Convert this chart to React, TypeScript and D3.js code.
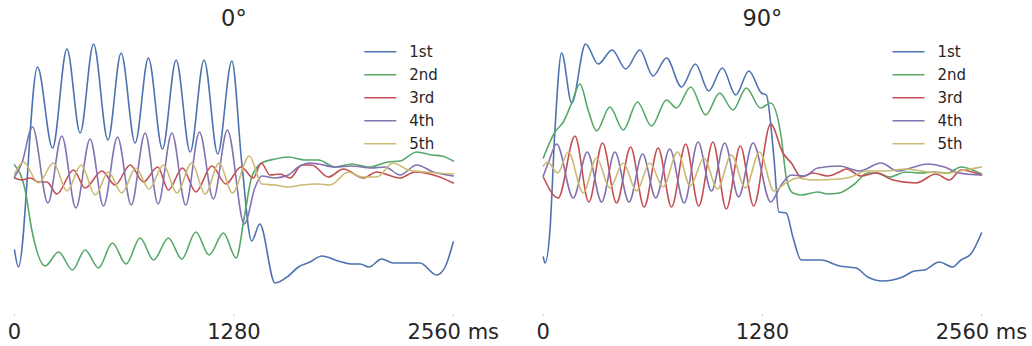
import React from "react";
import * as d3 from "d3";

// Time axis (ms) and tick labels
const timeDomain = [0, 2560];
const tickValues = [0, 1280, 2560];
const tickLabels = ["0", "1280", "2560 ms"];
const panelTitles = ["0°", "90°"];
const seriesNames = ["1st", "2nd", "3rd", "4th", "5th"];
const seriesColors = ["#4C72B0", "#55A868", "#C44E52", "#8172B2", "#CCB974"];

type Pt = [number, number];

// ---- 0° panel: [time ms, amplitude] ----
const p0First: Pt[] = [
  [0, -0.75], [23, -0.92], [134, 1.08], [222, 0.27], [306, 1.26], [383, 0.42], [461, 1.31],
  [545, 0.35], [622, 1.22], [704, 0.32], [781, 1.17], [863, 0.26], [943, 1.15], [1025, 0.23],
  [1106, 1.15], [1186, 0.21], [1268, 1.14], [1326, 0.12], [1384, -0.66], [1431, -0.49],
  [1520, -1.08], [1598, -1.01], [1656, -0.92], [1724, -0.87], [1793, -0.81], [1889, -0.86],
  [1968, -0.89], [2016, -0.89], [2068, -0.92], [2142, -0.84], [2210, -0.88], [2278, -0.88],
  [2366, -0.88], [2463, -1.0], [2512, -0.92], [2560, -0.67],
];
const p0Second: Pt[] = [
  [0, 0.1], [62, -0.15], [101, -0.55], [179, -0.91], [257, -0.77], [338, -0.95], [412, -0.75],
  [490, -0.93], [571, -0.68], [651, -0.89], [733, -0.63], [811, -0.85], [898, -0.63],
  [976, -0.84], [1058, -0.57], [1135, -0.8], [1219, -0.58], [1293, -0.83], [1341, -0.42],
  [1384, -0.02], [1443, 0.12], [1520, 0.16], [1598, 0.18], [1695, 0.15], [1773, 0.15],
  [1870, 0.08], [1968, 0.11], [2064, 0.08], [2181, 0.13], [2249, 0.14], [2347, 0.23],
  [2434, 0.2], [2492, 0.19], [2560, 0.14],
];
const p0Third: Pt[] = [
  [0, -0.03], [43, -0.05], [92, -0.03], [140, -0.07], [189, -0.07], [247, -0.19], [344, 0.05],
  [412, -0.13], [510, 0.04], [587, -0.1], [675, 0.1], [752, -0.07], [836, 0.08], [898, -0.15],
  [980, 0.07], [1058, -0.17], [1151, 0.09], [1233, -0.09], [1322, 0.08], [1394, -0.03],
  [1439, 0.12], [1491, 0.0], [1549, 0.01], [1608, -0.03], [1676, 0.1], [1734, 0.1],
  [1831, -0.02], [1919, 0.06], [2035, -0.03], [2113, 0.03], [2249, -0.03], [2337, 0.03],
  [2463, -0.01], [2560, -0.08],
];
const p0Fourth: Pt[] = [
  [0, -0.02], [43, 0.12], [105, 0.48], [195, -0.28], [276, 0.39], [358, -0.33], [441, 0.36],
  [519, -0.31], [601, 0.38], [681, -0.3], [762, 0.42], [838, -0.29], [918, 0.42], [999, -0.3],
  [1079, 0.43], [1160, -0.24], [1242, 0.45], [1341, -0.49], [1404, -0.12], [1443, -0.01],
  [1520, -0.03], [1598, 0.0], [1656, 0.08], [1724, 0.12], [1773, 0.11], [1870, 0.08],
  [1968, 0.09], [2084, 0.07], [2162, 0.08], [2249, 0.0], [2347, 0.1], [2443, 0.03], [2560, -0.01],
];
const p0Fifth: Pt[] = [
  [0, 0.01], [52, 0.13], [140, -0.08], [227, 0.12], [306, -0.16], [389, 0.1], [471, -0.2],
  [548, 0.03], [626, -0.18], [708, 0.07], [785, -0.14], [869, 0.1], [947, -0.18], [1034, 0.12],
  [1112, -0.19], [1194, 0.12], [1271, -0.18], [1370, 0.19], [1443, -0.09], [1520, -0.1],
  [1598, -0.12], [1676, -0.1], [1773, -0.09], [1841, -0.1], [1948, 0.03], [2026, -0.02],
  [2113, -0.02], [2210, 0.12], [2298, 0.05], [2395, 0.03], [2560, 0.01],
];

// ---- 90° panel ----
const p90First: Pt[] = [
  [0, -0.82], [10, -0.88], [39, -0.55], [68, 0.45], [107, 1.22], [166, 0.72], [247, 1.31],
  [321, 1.11], [402, 1.25], [482, 1.06], [564, 1.25], [641, 0.99], [720, 1.17], [807, 0.88],
  [889, 1.11], [966, 0.84], [1046, 1.07], [1124, 0.8], [1201, 1.04], [1274, 0.82], [1303, 0.8],
  [1347, 0.18], [1376, -0.37], [1419, -0.38], [1458, -0.62], [1507, -0.85], [1623, -0.85],
  [1730, -0.91], [1828, -0.93], [1895, -1.02], [1983, -1.06], [2099, -1.02], [2168, -0.96],
  [2226, -0.95], [2314, -0.87], [2391, -0.92], [2440, -0.85], [2498, -0.79], [2560, -0.58],
];
const p90Second: Pt[] = [
  [0, 0.17], [68, 0.43], [117, 0.53], [166, 0.72], [214, 0.91], [262, 0.65], [311, 0.44],
  [389, 0.68], [467, 0.45], [550, 0.73], [632, 0.49], [720, 0.75], [778, 0.67], [861, 0.88],
  [949, 0.6], [1030, 0.82], [1108, 0.65], [1186, 0.87], [1269, 0.67], [1328, 0.72],
  [1390, 0.38], [1419, -0.02], [1458, -0.18], [1507, -0.2], [1604, -0.17], [1662, -0.19],
  [1730, -0.18], [1818, -0.09], [1895, 0.02], [1954, 0.02], [2022, -0.02], [2119, 0.03],
  [2207, 0.02], [2284, 0.03], [2362, 0.02], [2440, 0.08], [2560, 0.01],
];
const p90Third: Pt[] = [
  [0, -0.02], [87, -0.23], [185, 0.39], [266, -0.27], [346, 0.32], [428, -0.28], [510, 0.28],
  [589, -0.32], [671, 0.27], [749, -0.32], [832, 0.31], [908, -0.31], [991, 0.33],
  [1069, -0.34], [1151, 0.29], [1229, -0.31], [1328, 0.51], [1400, 0.22], [1449, 0.12],
  [1507, -0.02], [1574, 0.02], [1662, -0.01], [1730, 0.03], [1769, 0.06], [1857, -0.01],
  [1944, 0.02], [2041, -0.05], [2177, -0.08], [2294, 0.01], [2372, -0.05], [2440, 0.05],
  [2560, 0.0],
];
const p90Fourth: Pt[] = [
  [0, -0.01], [29, 0.12], [78, 0.31], [175, -0.23], [257, 0.23], [341, -0.27], [418, 0.23],
  [501, -0.27], [580, 0.21], [657, -0.23], [739, 0.26], [823, -0.28], [904, 0.33], [982, -0.16],
  [1060, 0.32], [1141, -0.22], [1225, 0.32], [1328, -0.27], [1390, -0.1], [1449, 0.0],
  [1526, -0.01], [1604, 0.07], [1730, 0.09], [1847, 0.04], [1973, 0.12], [2070, 0.04],
  [2148, 0.07], [2245, 0.11], [2343, 0.08], [2430, 0.02], [2560, 0.0],
];
const p90Fifth: Pt[] = [
  [0, 0.09], [26, 0.13], [84, 0.02], [146, 0.23], [233, -0.18], [311, 0.17], [389, -0.13],
  [467, 0.12], [545, -0.16], [622, 0.12], [700, -0.12], [784, 0.23], [858, -0.11], [939, 0.17],
  [1017, -0.14], [1099, 0.2], [1180, -0.13], [1264, 0.23], [1347, -0.16], [1409, -0.09],
  [1487, -0.03], [1565, -0.05], [1730, -0.04], [1798, -0.02], [1886, 0.04], [1993, 0.04],
  [2119, 0.06], [2245, 0.03], [2362, 0.02], [2460, 0.05], [2560, 0.08],
];

const panels = [
  { title: panelTitles[0], left: 14.5, right: 453.3, series: [p0First, p0Second, p0Third, p0Fourth, p0Fifth] },
  { title: panelTitles[1], left: 543.3, right: 981.5, series: [p90First, p90Second, p90Third, p90Fourth, p90Fifth] },
];

const TEXT = "#262626";
const FONT = "'DejaVu Sans', sans-serif";

export default function App() {
  const y = d3.scaleLinear().domain([-1.35, 1.4]).range([310, 35]);
  return (
    <svg
      width={1032}
      height={346}
      style={{ position: "absolute", left: 0, top: 0, background: "#fff" }}
      fontFamily={FONT}
    >
      {panels.map((p, pi) => {
        const x = d3.scaleLinear().domain(timeDomain).range([p.left, p.right]);
        const line = d3
          .line<Pt>()
          .x((d) => x(d[0]))
          .y((d) => y(d[1]))
          .curve(d3.curveMonotoneX);
        const legendX = p.right - 89;
        return (
          <g key={pi}>
            <text
              x={(p.left + p.right) / 2}
              y={26}
              textAnchor="middle"
              fontSize={22.5}
              fill={TEXT}
            >
              {p.title}
            </text>
            {p.series.map((s, si) => (
              <path
                key={si}
                d={line(s) || ""}
                fill="none"
                stroke={seriesColors[si]}
                strokeWidth={1.6}
                strokeLinejoin="round"
                strokeLinecap="round"
              />
            ))}
            {tickValues.map((t, ti) => (
              <g key={ti} transform={`translate(${x(t)},0)`}>
                <line y1={314.5} y2={316} stroke="#bbb" strokeWidth={1} />
                <text y={339} textAnchor="middle" fontSize={21} fill={TEXT}>
                  {tickLabels[ti]}
                </text>
              </g>
            ))}
            <g transform={`translate(${legendX},0)`}>
              {seriesNames.map((n, si) => (
                <g key={n} transform={`translate(0,${51.7 + si * 23})`}>
                  <line x1={0} x2={32} stroke={seriesColors[si]} strokeWidth={1.6} />
                  <text x={45} y={5.5} fontSize={15} fill={TEXT}>
                    {n}
                  </text>
                </g>
              ))}
            </g>
          </g>
        );
      })}
    </svg>
  );
}
